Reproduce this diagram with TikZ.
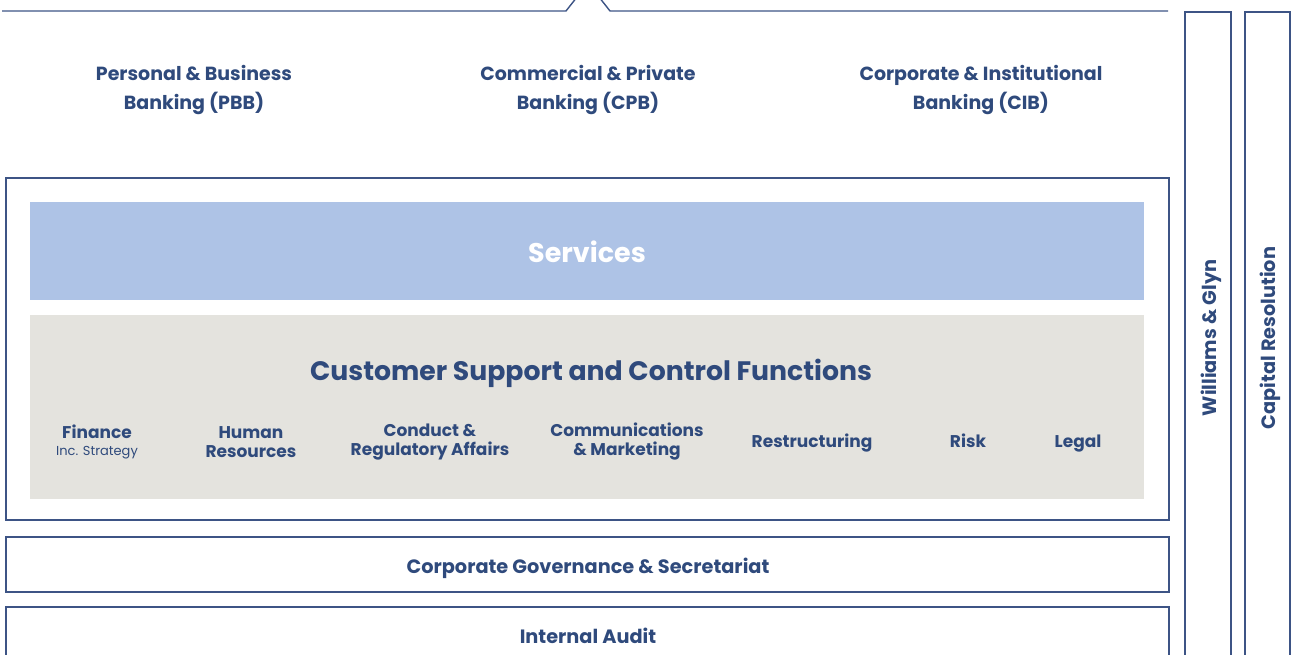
\documentclass[tikz,border=0pt]{standalone}
\usepackage{fontspec}
\setmainfont{Poppins}
\usetikzlibrary{positioning}

\definecolor{navy}{HTML}{2F4A7C}
\definecolor{frame}{HTML}{3D5485}
\definecolor{servblue}{HTML}{AEC3E6}
\definecolor{supgrey}{HTML}{E4E3DE}

\tikzset{
  cadre/.style={draw=frame, line width=1.4},
  division/.style={text=navy, font=\bfseries\fontsize{19}{29.5}\selectfont, align=center},
  fonction/.style={text=navy, font=\bfseries\fontsize{17}{19}\selectfont, align=center},
  bande/.style={text=navy, font=\bfseries\fontsize{19.3}{22}\selectfont},
}

\begin{document}
\begin{tikzpicture}[x=1pt,y=-1pt]
\useasboundingbox (0,0) rectangle (1295,655);
\clip (0,0) rectangle (1295,655);

\pgfmathsetmacro{\xgauche}{6}%
\pgfmathsetmacro{\xdroite}{1169}%
\pgfmathsetmacro{\xint}{30}%
\pgfmathsetmacro{\xintd}{1144}%
\pgfmathsetmacro{\ybase}{447.5}%

    %ligne du haut avec pointe
    \draw[cadre] (2,11) -- (566,11) -- (588,-17) -- (610,11) -- (1168,11);

    %divisions
    \node[division] (pbb) at (194,90) {Personal \& Business\\Banking (PBB)};
    \node[division] (cpb) at (588,90) {Commercial \& Private\\Banking (CPB)};
    \node[division] (cib) at (981,90) {Corporate \& Institutional\\Banking (CIB)};

    %cadre principal
    \draw[cadre] (\xgauche,178) rectangle (\xdroite,520);
    \fill[servblue] (\xint,202) rectangle (\xintd,300);
    \node[text=white, font=\bfseries\fontsize{27}{32}\selectfont] (services) at (587,252) {Services};
    \fill[supgrey] (\xint,315) rectangle (\xintd,499);
    \node[text=navy, font=\bfseries\fontsize{26.7}{32}\selectfont] (cscf) at (591,373) {Customer Support and Control Functions};

    %fonctions
    \node[fonction, anchor=base] (finance) at (97,438) {Finance};
    \node[text=navy, font=\fontsize{13}{15}\selectfont, below=1pt of finance] (strategy) {Inc. Strategy};
    \node[fonction] (rh) at (251,442) {Human\\Resources};
    \node[fonction] (conduct) at (430,442) {Conduct \&\\Regulatory Affairs};
    \node[fonction] (comms) at (627,442) {Communications\\\& Marketing};
    \node[fonction, anchor=base] (restruct) at (812,\ybase) {Restructuring};
    \node[fonction, anchor=base] (risk) at (968,\ybase) {Risk};
    \node[fonction, anchor=base] (legal) at (1078,\ybase) {Legal};

    %gouvernance et audit
    \draw[cadre] (\xgauche,537) rectangle (\xdroite,592);
    \node[bande] (gouv) at (588,568) {Corporate Governance \& Secretariat};
    \draw[cadre] (\xgauche,665) -- (\xgauche,607) -- (\xdroite,607) -- (\xdroite,665);
    \node[bande] (audit) at (588,636) {Internal Audit};

    %colonnes
    \draw[cadre] (1185,665) -- (1185,12) -- (1231,12) -- (1231,665);
    \node[bande, rotate=90] (wg) at (1211,338) {Williams \& Glyn};
    \draw[cadre] (1245,665) -- (1245,12) -- (1290,12) -- (1290,665);
    \node[bande, rotate=90] (cr) at (1270,338) {Capital Resolution};
\end{tikzpicture}
\end{document}
